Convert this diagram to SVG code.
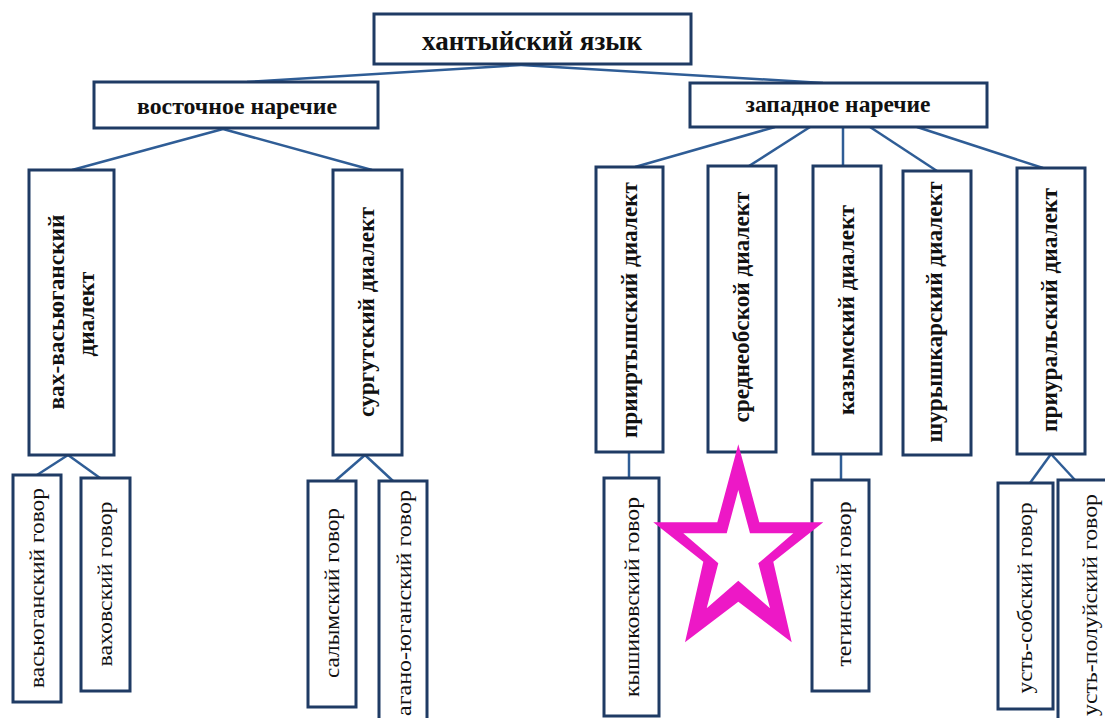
<svg xmlns="http://www.w3.org/2000/svg" width="1105" height="718" viewBox="0 0 1105 718">
<style>
.box{fill:#fff;stroke:#1F3B64;stroke-width:3}
.con{stroke:#2F5D96;stroke-width:2.5;fill:none}
.b{font-family:"Liberation Serif",serif;font-weight:bold;fill:#111}
.r{font-family:"Liberation Serif",serif;fill:#111}
.h{font-size:24px;text-anchor:middle}
.v{font-size:23px;text-anchor:middle}
.g{font-size:22px;text-anchor:middle}
</style>
<rect width="1105" height="718" fill="#fff"/>
<g id="connectors">
<line class="con" x1="521" y1="65" x2="247" y2="82"/>
<line class="con" x1="521" y1="65" x2="823" y2="83"/>
<line class="con" x1="223" y1="129" x2="72" y2="170"/>
<line class="con" x1="223" y1="129" x2="372" y2="170"/>
<line class="con" x1="775" y1="127" x2="635" y2="167"/>
<line class="con" x1="810" y1="127" x2="749" y2="166"/>
<line class="con" x1="843" y1="127" x2="843" y2="166"/>
<line class="con" x1="870" y1="127" x2="937" y2="171"/>
<line class="con" x1="917" y1="127" x2="1043" y2="168"/>
<line class="con" x1="68" y1="455" x2="37" y2="475"/>
<line class="con" x1="68" y1="455" x2="100" y2="478"/>
<line class="con" x1="365" y1="455" x2="335" y2="481"/>
<line class="con" x1="365" y1="455" x2="393" y2="481"/>
<line class="con" x1="629" y1="452" x2="629" y2="478"/>
<line class="con" x1="841" y1="454" x2="841" y2="480"/>
<line class="con" x1="1051" y1="454" x2="1030" y2="483"/>
<line class="con" x1="1051" y1="454" x2="1075" y2="480"/>
</g>
<g id="root">
<rect class="box" x="374" y="14" width="317" height="50"/>
<text class="b" x="532" y="50" font-size="27" text-anchor="middle" textLength="220" lengthAdjust="spacingAndGlyphs">хантыйский язык</text>
</g>
<g id="east">
<rect class="box" x="94" y="82" width="284" height="46"/>
<text class="b h" x="237" y="114" textLength="200" lengthAdjust="spacingAndGlyphs">восточное наречие</text>
</g>
<g id="west">
<rect class="box" x="690" y="83" width="297" height="44"/>
<text class="b h" x="838" y="112" textLength="185" lengthAdjust="spacingAndGlyphs">западное наречие</text>
</g>
<g id="vax">
<rect class="box" x="29" y="170" width="85" height="285"/>
<text class="b v" transform="translate(59,312) rotate(-90)" y="5" textLength="195" lengthAdjust="spacingAndGlyphs">вах-васьюганский</text>
<text class="b v" transform="translate(89,314) rotate(-90)" y="5" textLength="85" lengthAdjust="spacingAndGlyphs">диалект</text>
</g>
<g id="surgut">
<rect class="box" x="333" y="170" width="69" height="285"/>
<text class="b v" transform="translate(369,312) rotate(-90)" y="5" textLength="210" lengthAdjust="spacingAndGlyphs">сургутский диалект</text>
</g>
<g id="prirtysh">
<rect class="box" x="596" y="167" width="67" height="285"/>
<text class="b v" transform="translate(632,310) rotate(-90)" y="5" textLength="256" lengthAdjust="spacingAndGlyphs">прииртышский диалект</text>
</g>
<g id="sredneob">
<rect class="box" x="708" y="166" width="68" height="286"/>
<text class="b v" transform="translate(744,307) rotate(-90)" y="5" textLength="231" lengthAdjust="spacingAndGlyphs">среднеобской диалект</text>
</g>
<g id="kazym">
<rect class="box" x="813" y="166" width="68" height="288"/>
<text class="b v" transform="translate(849,310) rotate(-90)" y="5" textLength="210" lengthAdjust="spacingAndGlyphs">казымский диалект</text>
</g>
<g id="shuryshkar">
<rect class="box" x="903" y="171" width="68" height="284"/>
<text class="b v" transform="translate(937,312) rotate(-90)" y="5" textLength="261" lengthAdjust="spacingAndGlyphs">шурышкарский диалект</text>
</g>
<g id="priural">
<rect class="box" x="1017" y="168" width="68" height="286"/>
<text class="b v" transform="translate(1052,310) rotate(-90)" y="5" textLength="244" lengthAdjust="spacingAndGlyphs">приуральский диалект</text>
</g>
<g id="vasyugan">
<rect class="box" x="13" y="475" width="48" height="227"/>
<text class="r g" transform="translate(39,588) rotate(-90)" y="5" textLength="200" lengthAdjust="spacingAndGlyphs">васьюганский говор</text>
</g>
<g id="vakhov">
<rect class="box" x="81" y="478" width="49" height="213"/>
<text class="r g" transform="translate(107,584) rotate(-90)" y="5" textLength="165" lengthAdjust="spacingAndGlyphs">ваховский говор</text>
</g>
<g id="salym">
<rect class="box" x="308" y="481" width="48" height="226"/>
<text class="r g" transform="translate(334,593) rotate(-90)" y="5" textLength="170" lengthAdjust="spacingAndGlyphs">салымский говор</text>
</g>
<g id="agan">
<rect class="box" x="379" y="481" width="48" height="245"/>
<text class="r" font-size="22" transform="translate(406,716) rotate(-90)" y="5" textLength="226" lengthAdjust="spacingAndGlyphs">агано-юганский говор</text>
</g>
<g id="kyshik">
<rect class="box" x="604" y="478" width="55" height="238"/>
<text class="r g" transform="translate(634,597) rotate(-90)" y="5" textLength="200" lengthAdjust="spacingAndGlyphs">кышиковский говор</text>
</g>
<g id="tegin">
<rect class="box" x="812" y="480" width="57" height="211"/>
<text class="r g" transform="translate(846,584) rotate(-90)" y="5" textLength="165" lengthAdjust="spacingAndGlyphs">тегинский говор</text>
</g>
<g id="ustsob">
<rect class="box" x="998" y="483" width="55" height="226"/>
<text class="r g" transform="translate(1027,598) rotate(-90)" y="5" textLength="191" lengthAdjust="spacingAndGlyphs">усть-собский говор</text>
</g>
<g id="ustpol">
<rect class="box" x="1058" y="480" width="60" height="250"/>
<text class="r" font-size="22" transform="translate(1092,716) rotate(-90)" y="5" textLength="222" lengthAdjust="spacingAndGlyphs">усть-полуйский говор</text>
</g>
<path fill="#ED18C6" fill-rule="evenodd" d="M738.3,444.3 L759.3,522.3 L823.3,522.3 L773.3,561.7 L791.7,642.3 L738.3,601.7 L685,642.3 L703.3,561.7 L653.3,522.3 L717.3,522.3 Z M738.3,490 L750,533.3 L793.3,533.3 L758.3,563.3 L770,608.3 L738.3,580.7 L706.7,608.3 L718.3,563.3 L683.3,533.3 L726.7,533.3 Z"/>
</svg>
